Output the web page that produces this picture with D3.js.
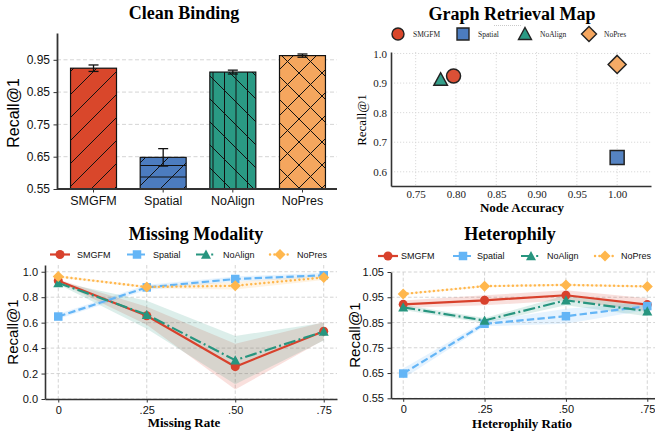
<!DOCTYPE html>
<html>
<head>
<meta charset="utf-8">
<script src="https://cdn.jsdelivr.net/npm/d3@7"></script>
<style>
  body { margin: 0; background: #fff; }
  svg { display: block; }
</style>
</head>
<body>
<svg id="fig" width="655" height="437"></svg>
<script>
// ---- data ----
const methods = ['SMGFM', 'Spatial', 'NoAlign', 'NoPres'];

// Clean Binding bars
const cleanRecall = [0.924, 0.648, 0.912, 0.963];
const cleanErr = [0.010, 0.027, 0.006, 0.005];
const cleanTicks = [0.55, 0.65, 0.75, 0.85, 0.95];

// Graph Retrieval Map
const mapNodeAcc = [0.797, 1.0, 0.781, 1.0];
const mapRecall = [0.924, 0.648, 0.912, 0.963];
const mapXTicks = [0.75, 0.80, 0.85, 0.90, 0.95, 1.00];
const mapYTicks = [0.6, 0.7, 0.8, 0.9, 1.0];

// Missing Modality
const missRates = [0, 0.25, 0.5, 0.75];
const rateLabels = ['0', '.25', '.50', '.75'];
const missSMGFM = [0.929, 0.654, 0.254, 0.533];
const missSpatial = [0.648, 0.877, 0.943, 0.972];
const missNoAlign = [0.912, 0.663, 0.305, 0.530];
const missNoPres = [0.963, 0.880, 0.890, 0.955];
const missSMGFMStd = [0.01, 0.07, 0.18, 0.07];
const missSpatialStd = [0.02, 0.02, 0.02, 0.02];
const missNoAlignStd = [0.01, 0.11, 0.19, 0.07];
const missNoPresStd = [0.01, 0.01, 0.03, 0.02];
const missYTicks = [0.0, 0.2, 0.4, 0.6, 0.8, 1.0];

// Heterophily
const hetRatios = [0, 0.25, 0.5, 0.75];
const hetSMGFM = [0.922, 0.938, 0.958, 0.921];
const hetSpatial = [0.648, 0.845, 0.875, 0.915];
const hetNoAlign = [0.910, 0.858, 0.938, 0.895];
const hetNoPres = [0.963, 0.994, 0.999, 0.993];
const hetSMGFMStd = [0.015, 0.02, 0.02, 0.025];
const hetSpatialStd = [0.02, 0.01, 0.03, 0.015];
const hetNoAlignStd = [0.01, 0.01, 0.02, 0.02];
const hetNoPresStd = [0.004, 0.004, 0.004, 0.004];
const hetYTicks = [0.55, 0.65, 0.75, 0.85, 0.95, 1.05];

// ---- styles ----
const barColors = ['#d9472b', '#4c7cbf', '#2a9a84', '#f5a65e'];
const lineColors = ['#d8412c', '#64b5f6', '#27957f', '#ffb74d'];
const markerTypes = ['circle', 'square', 'triangle', 'diamond'];
const dashes = [null, '7.4,3.2', '12,3.2,2,3.2', '2,3.3'];
const SANS = 'Liberation Sans, Arial, sans-serif';
const SERIF = 'Liberation Serif, Times New Roman, serif';
const SPINE = '#333';

const svg = d3.select('#fig');

// marker path with total width w
const markerPath = (type, w) => {
  const h = w / 2;
  if (type === 'circle') return `M${h},0A${h},${h} 0 1,1 ${-h},0A${h},${h} 0 1,1 ${h},0Z`;
  if (type === 'square') return `M${-h},${-h}H${h}V${h}H${-h}Z`;
  if (type === 'triangle') return `M0,${-h}L${h},${h * 0.85}L${-h},${h * 0.85}Z`;
  return `M0,${-h}L${h},0L0,${h}L${-h},0Z`;
};

const title = (text, x, y) => {
  svg.append('text').text(text)
    .attr('x', x).attr('y', y)
    .attr('text-anchor', 'middle')
    .style('font-family', SERIF).style('font-weight', 'bold').style('font-size', '18px');
};

// hatch patterns
const defs = svg.append('defs');
const hatch = (id, paths) => {
  const p = defs.append('pattern')
    .attr('id', id)
    .attr('patternUnits', 'userSpaceOnUse')
    .attr('width', 23).attr('height', 23)
    .attr('x', 0).attr('y', 4);
  p.append('path').attr('d', paths).attr('stroke', '#111').attr('stroke-width', 1).attr('fill', 'none');
};
const fwd = 'M-1,1L1,-1M0,23L23,0M22,24L24,22';
const back = 'M-1,22L1,24M0,0L23,23M22,-1L24,1';
hatch('h0', fwd);
hatch('h1', fwd + 'M0,0.5H23M0,12H23');
hatch('h2', back + 'M6,0V23M17.5,0V23');
hatch('h3', fwd + back);

// ================= Panel 1: Clean Binding =================
{
  const x0 = 57, x1 = 337, yT = 33, yB = 189;
  const x = d3.scaleBand().domain(methods).range([x0 + 1, x1 + 1]).paddingInner(0.34).paddingOuter(0.18);
  const y = d3.scaleLinear().domain([0.55, 1.033]).range([yB, yT]);

  title('Clean Binding', 184, 19);

  // grid
  svg.append('g').selectAll('line').data(cleanTicks.slice(1)).join('line')
    .attr('x1', x0).attr('x2', x1)
    .attr('y1', d => y(d)).attr('y2', d => y(d))
    .attr('stroke', '#d0d0d0').attr('stroke-width', 0.9).attr('stroke-dasharray', '4,2.5');

  const bars = svg.append('g');
  methods.forEach((m, i) => {
    const bx = x(m), bw = x.bandwidth(), top = y(cleanRecall[i]);
    bars.append('rect').attr('x', bx).attr('y', top).attr('width', bw).attr('height', yB - top)
      .attr('fill', barColors[i]);
    bars.append('rect').attr('x', bx).attr('y', top).attr('width', bw).attr('height', yB - top)
      .attr('fill', `url(#h${i})`);
    bars.append('rect').attr('x', bx).attr('y', top).attr('width', bw).attr('height', yB - top)
      .attr('fill', 'none').attr('stroke', '#111').attr('stroke-width', 1.2);
    // error bar
    const cx = bx + bw / 2;
    const e = svg.append('g').attr('stroke', '#111').attr('stroke-width', 1.3);
    e.append('line').attr('x1', cx).attr('x2', cx)
      .attr('y1', y(cleanRecall[i] - cleanErr[i])).attr('y2', y(cleanRecall[i] + cleanErr[i]));
    [-1, 1].forEach(s => {
      e.append('line').attr('x1', cx - 5).attr('x2', cx + 5)
        .attr('y1', y(cleanRecall[i] + s * cleanErr[i])).attr('y2', y(cleanRecall[i] + s * cleanErr[i]));
    });
  });

  const ya = svg.append('g').attr('transform', `translate(${x0},0)`)
    .call(d3.axisLeft(y).tickValues(cleanTicks).tickFormat(d3.format('.2f')).tickSize(3.5).tickSizeOuter(0).tickPadding(3.5));
  const xa = svg.append('g').attr('transform', `translate(0,${yB})`)
    .call(d3.axisBottom(x).tickSize(3.5).tickSizeOuter(0).tickPadding(4));
  xa.select('.domain').attr('d', `M${x0},0H${x1}`);
  [ya, xa].forEach(a => {
    a.select('.domain').attr('stroke', SPINE).attr('stroke-width', 1.8);
    a.selectAll('.tick line').attr('stroke', SPINE);
    a.selectAll('text').style('font-family', SANS).style('font-size', '12px').attr('fill', '#111');
  });
  xa.selectAll('text').style('font-size', '12.5px');

  svg.append('text').text('Recall@1')
    .attr('transform', `translate(19,${(yT + yB) / 2 + 2}) rotate(-90)`)
    .attr('text-anchor', 'middle')
    .style('font-family', SANS).style('font-size', '16px');
}

// ================= Panel 2: Graph Retrieval Map =================
{
  const x0 = 391, x1 = 651, yT = 52, yB = 186;
  const x = d3.scaleLinear().domain([0.7194, 1.042]).range([x0, x1]);
  const y = d3.scaleLinear().domain([0.552, 1.005]).range([yB, yT]);

  title('Graph Retrieval Map', 512, 19.5);

  // grid
  const g = svg.append('g').attr('stroke', '#d6d6d6').attr('stroke-width', 0.9).attr('stroke-dasharray', '1.2,1.8');
  g.selectAll('.vx').data(mapXTicks).join('line')
    .attr('x1', d => x(d)).attr('x2', d => x(d)).attr('y1', yT).attr('y2', yB);
  g.selectAll('.hy').data(mapYTicks).join('line')
    .attr('y1', d => y(d)).attr('y2', d => y(d)).attr('x1', x0).attr('x2', x1);

  const sizes = [14, 14, 13.5, 18];
  methods.forEach((m, i) => {
    svg.append('path').attr('d', markerPath(markerTypes[i], sizes[i]))
      .attr('transform', `translate(${x(mapNodeAcc[i])},${y(mapRecall[i])})`)
      .attr('fill', barColors[i]).attr('fill-opacity', 0.95)
      .attr('stroke', '#222').attr('stroke-width', 1.5);
  });

  const ya = svg.append('g').attr('transform', `translate(${x0},0)`)
    .call(d3.axisLeft(y).tickValues(mapYTicks).tickFormat(d3.format('.1f')).tickSize(0).tickSizeOuter(0).tickPadding(4));
  const xa = svg.append('g').attr('transform', `translate(0,${yB})`)
    .call(d3.axisBottom(x).tickValues(mapXTicks).tickFormat(d3.format('.2f')).tickSize(0).tickSizeOuter(0).tickPadding(4));
  [ya, xa].forEach(a => {
    a.select('.domain').attr('stroke', SPINE).attr('stroke-width', 1.6);
    a.selectAll('text').style('font-family', SERIF).style('font-size', '11px').attr('fill', '#222');
  });

  svg.append('text').text('Node Accuracy')
    .attr('x', 522).attr('y', 211.5).attr('text-anchor', 'middle')
    .style('font-family', SERIF).style('font-weight', 'bold').style('font-size', '13px');
  svg.append('text').text('Recall@1')
    .attr('transform', `translate(366,${(yT + yB) / 2 + 1}) rotate(-90)`)
    .attr('text-anchor', 'middle')
    .style('font-family', SERIF).style('font-size', '13px');

  // legend
  svg.append('line').attr('x1', 494).attr('x2', 522).attr('y1', 25.5).attr('y2', 25.5)
    .attr('stroke', '#bbb').attr('stroke-width', 0.8).attr('stroke-dasharray', '1,1');
  const legX = [398, 463, 525, 589];
  const legS = [12, 12, 13, 15];
  methods.forEach((m, i) => {
    svg.append('path').attr('d', markerPath(markerTypes[i], legS[i]))
      .attr('transform', `translate(${legX[i]},34)`)
      .attr('fill', barColors[i]).attr('stroke', '#222').attr('stroke-width', 1.4);
    svg.append('text').text(m).attr('x', legX[i] + 15).attr('y', 36.5)
      .style('font-family', SERIF).style('font-size', '7.5px').attr('fill', '#222');
  });
}

// ================= line panels =================
const linePanel = (opts) => {
  const { x0, x1, yT, yB, xDomain, yDomain, yTicks, yFmt, series, stds, xs, legX, legTextX, legY, yLabelX } = opts;
  const x = d3.scaleLinear().domain(xDomain).range([x0, x1]);
  const y = d3.scaleLinear().domain(yDomain).range([yB, yT]);

  const g = svg.append('g').attr('stroke', '#cfcfcf').attr('stroke-width', 0.9).attr('stroke-dasharray', '3.5,2.2');
  g.selectAll('.vx').data(xs).join('line')
    .attr('x1', d => x(d)).attr('x2', d => x(d)).attr('y1', yT).attr('y2', yB);
  g.selectAll('.hy').data(yTicks).join('line')
    .attr('y1', d => y(d)).attr('y2', d => y(d)).attr('x1', x0).attr('x2', x1);

  // bands
  const area = d3.area().x(d => x(d.x)).y0(d => y(d.v - d.s)).y1(d => y(d.v + d.s));
  series.forEach((vals, i) => {
    const pts = vals.map((v, k) => ({ x: xs[k], v, s: stds[i][k] }));
    svg.append('path').attr('d', area(pts)).attr('fill', lineColors[i]).attr('fill-opacity', 0.16);
  });

  const line = d3.line().x(d => x(d.x)).y(d => y(d.v));
  const msize = [9, 8.5, 10, 11];
  series.forEach((vals, i) => {
    const pts = vals.map((v, k) => ({ x: xs[k], v }));
    const p = svg.append('path').attr('d', line(pts)).attr('fill', 'none')
      .attr('stroke', lineColors[i]).attr('stroke-width', 2.2);
    if (dashes[i]) p.attr('stroke-dasharray', dashes[i]);
    if (i === 3) p.attr('stroke-linecap', 'round').attr('stroke-dasharray', '0.1,4.3').attr('stroke-width', 2.4);
    svg.append('g').selectAll('path').data(pts).join('path')
      .attr('d', markerPath(markerTypes[i], msize[i]))
      .attr('transform', d => `translate(${x(d.x)},${y(d.v)})`)
      .attr('fill', lineColors[i]);
  });

  const ya = svg.append('g').attr('transform', `translate(${x0},0)`)
    .call(d3.axisLeft(y).tickValues(yTicks).tickFormat(d3.format(yFmt)).tickSize(3.5).tickSizeOuter(0).tickPadding(3.5));
  const xa = svg.append('g').attr('transform', `translate(0,${yB})`)
    .call(d3.axisBottom(x).tickValues(xs).tickFormat((d, k) => rateLabels[k]).tickSize(3.5).tickSizeOuter(0).tickPadding(3.5));
  [ya, xa].forEach(a => {
    a.select('.domain').attr('stroke', SPINE).attr('stroke-width', 1.6);
    a.selectAll('.tick line').attr('stroke', SPINE);
    a.selectAll('text').style('font-family', SANS).style('font-size', '11px').attr('fill', '#111');
  });

  svg.append('text').text('Recall@1')
    .attr('transform', `translate(${yLabelX},${(yT + yB) / 2}) rotate(-90)`)
    .attr('text-anchor', 'middle')
    .style('font-family', SANS).style('font-size', '15px');

  // legend
  methods.forEach((m, i) => {
    const cx = legX[i];
    const l = svg.append('line').attr('x1', cx - 10).attr('x2', cx + 10).attr('y1', legY).attr('y2', legY)
      .attr('stroke', lineColors[i]).attr('stroke-width', 2.2);
    if (dashes[i]) l.attr('stroke-dasharray', i === 3 ? '0.1,4.3' : dashes[i]);
    if (i === 3) l.attr('stroke-linecap', 'round').attr('stroke-width', 2.4);
    svg.append('path').attr('d', markerPath(markerTypes[i], msize[i]))
      .attr('transform', `translate(${cx},${legY})`).attr('fill', lineColors[i]);
    svg.append('text').text(m).attr('x', legTextX[i]).attr('y', legY + 3.2)
      .style('font-family', SANS).style('font-size', '9px').attr('fill', '#111');
  });
};

// ================= Panel 3: Missing Modality =================
title('Missing Modality', 196, 240);
linePanel({
  x0: 45, x1: 337, yT: 265, yB: 399,
  xDomain: [-0.0375, 0.7875], yDomain: [0, 1.053],
  yTicks: missYTicks, yFmt: '.1f',
  series: [missSMGFM, missSpatial, missNoAlign, missNoPres],
  stds: [missSMGFMStd, missSpatialStd, missNoAlignStd, missNoPresStd],
  xs: missRates,
  legX: [60, 137, 206, 280], legTextX: [77, 153, 223, 297], legY: 254.5,
  yLabelX: 18
});
svg.append('text').text('Missing Rate')
  .attr('x', 184).attr('y', 427).attr('text-anchor', 'middle')
  .style('font-family', SERIF).style('font-weight', 'bold').style('font-size', '13px');

// ================= Panel 4: Heterophily =================
title('Heterophily', 510, 240);
linePanel({
  x0: 391, x1: 659.5, yT: 272, yB: 398.3,
  xDomain: [-0.0375, 0.7875], yDomain: [0.55, 1.05],
  yTicks: hetYTicks, yFmt: '.2f',
  series: [hetSMGFM, hetSpatial, hetNoAlign, hetNoPres],
  stds: [hetSMGFMStd, hetSpatialStd, hetNoAlignStd, hetNoPresStd],
  xs: hetRatios,
  legX: [388, 463, 531, 605], legTextX: [401, 477, 547, 621], legY: 256,
  yLabelX: 360
});
svg.append('text').text('Heterophily Ratio')
  .attr('x', 522).attr('y', 428).attr('text-anchor', 'middle')
  .style('font-family', SERIF).style('font-weight', 'bold').style('font-size', '13px');
</script>
</body>
</html>
